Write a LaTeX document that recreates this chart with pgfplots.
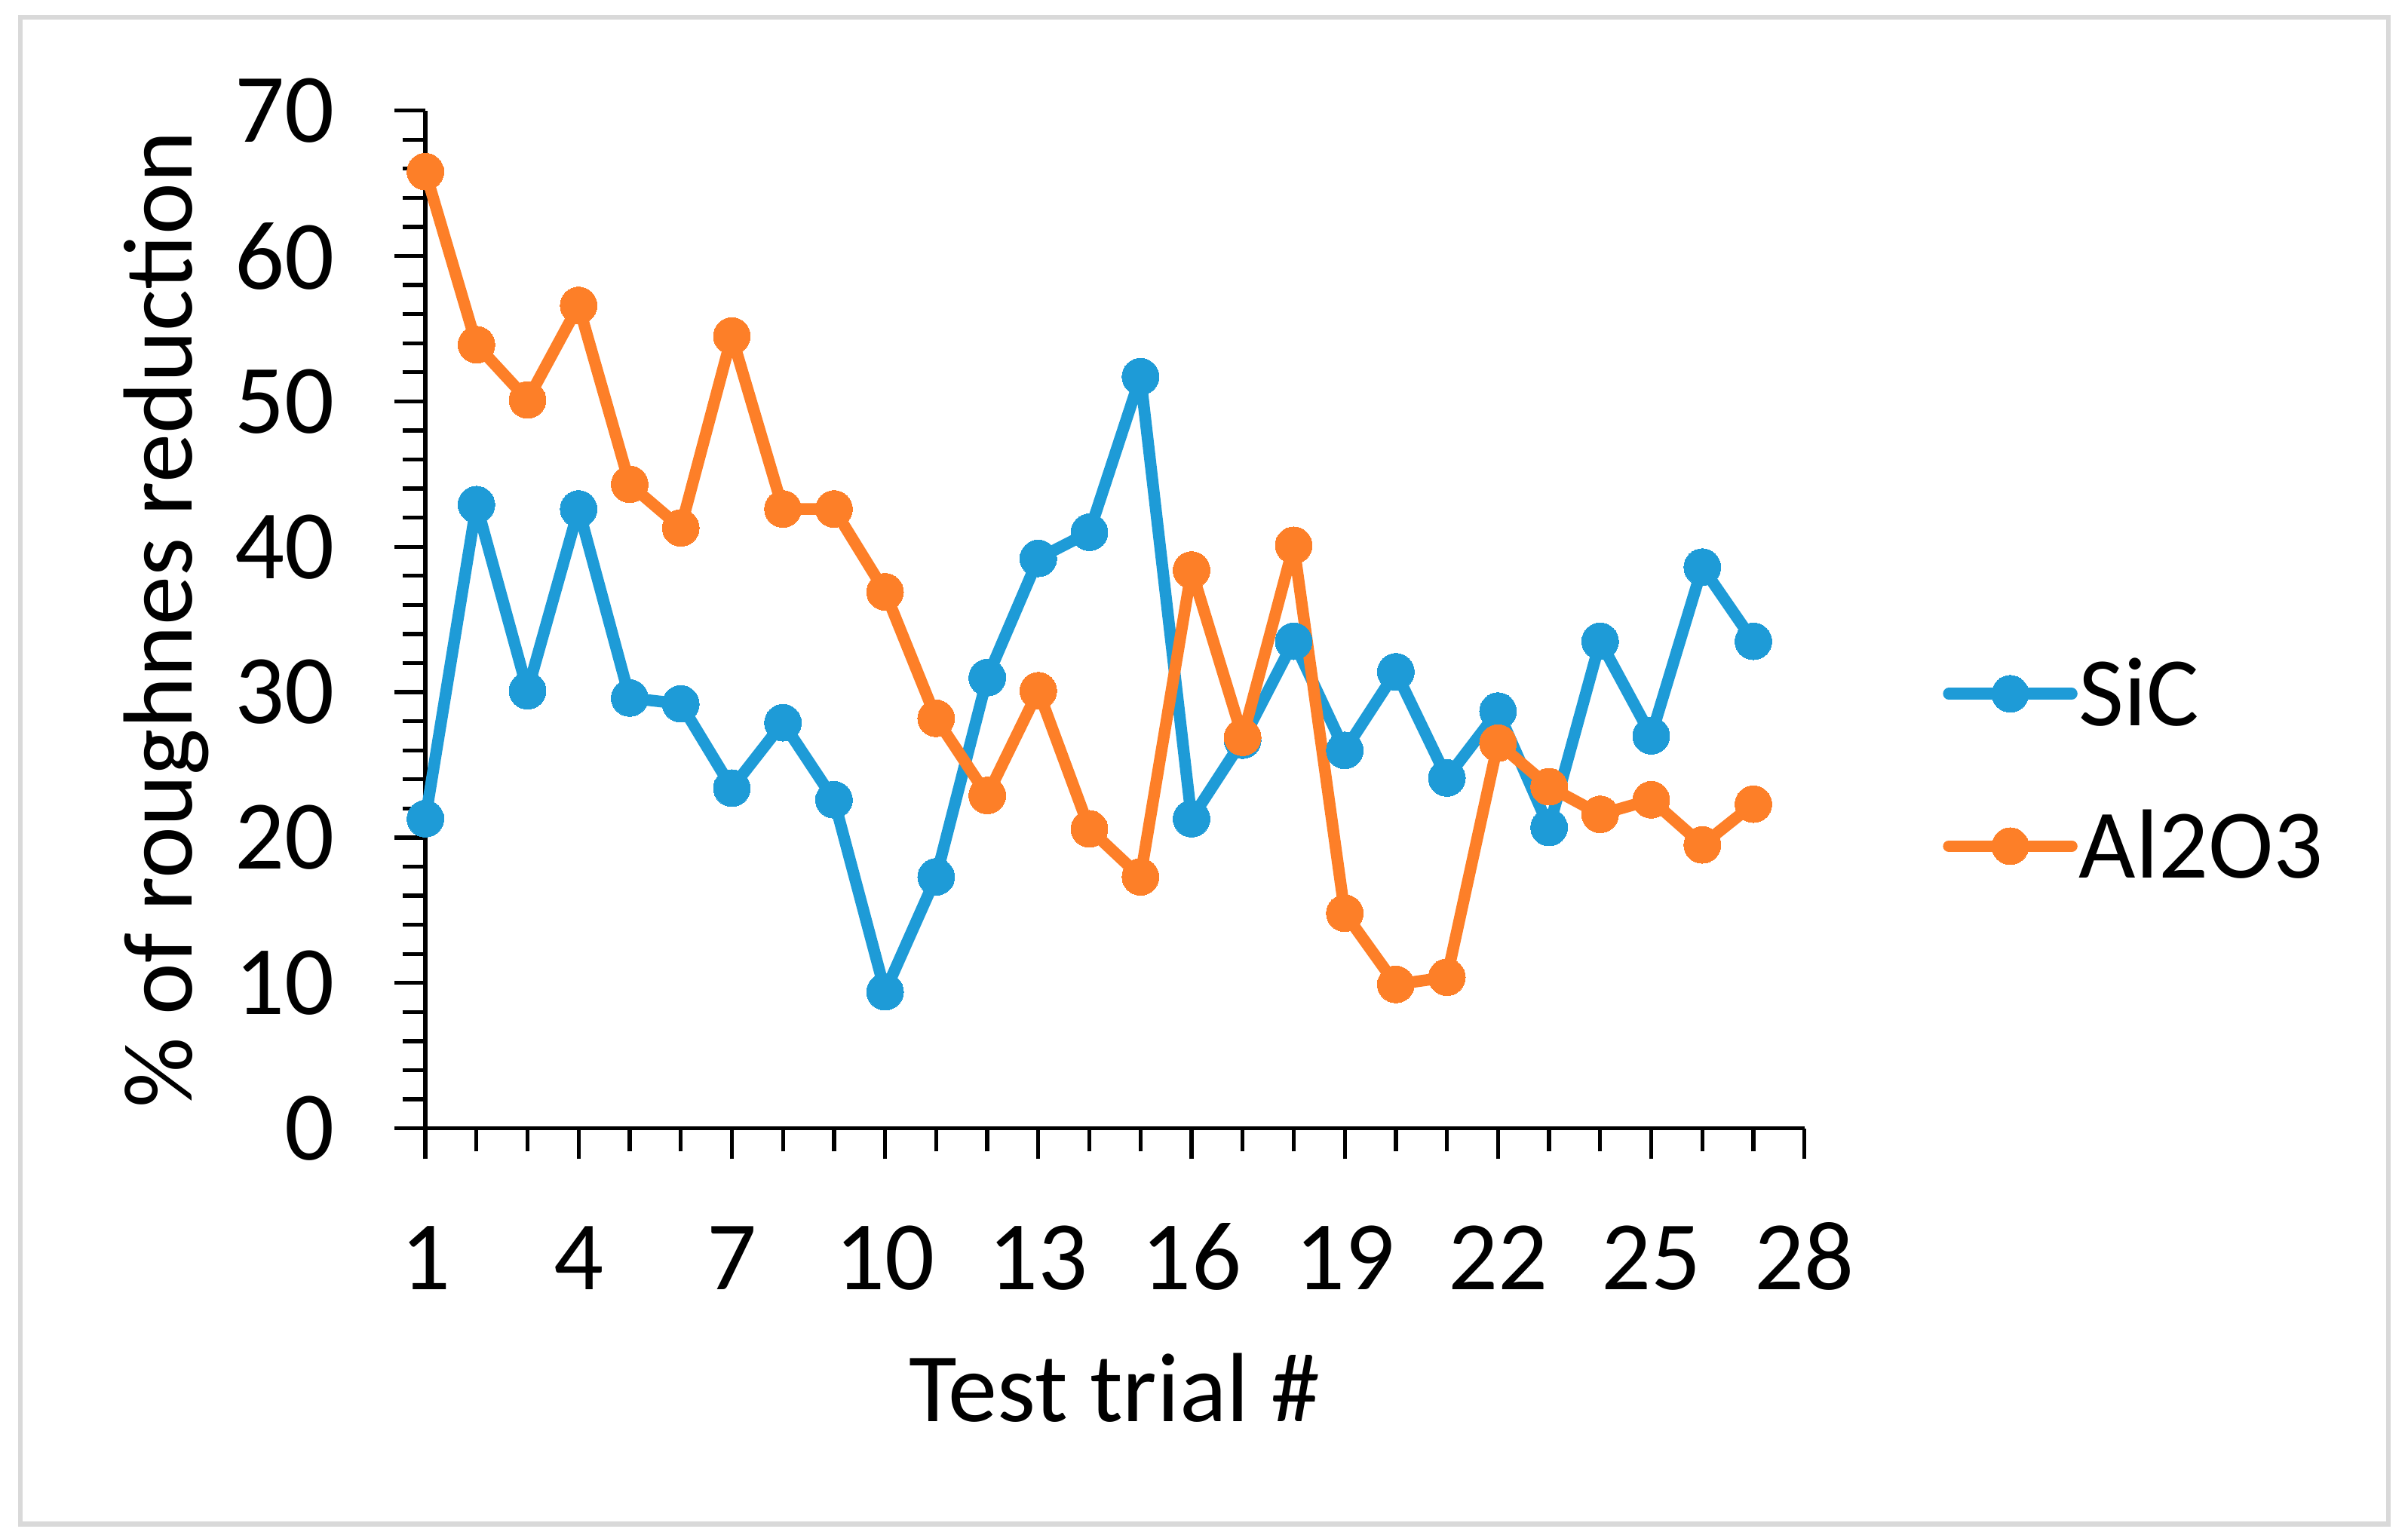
\documentclass[border=0pt]{standalone}
\usepackage{pgfplots}
\pgfplotsset{compat=1.18}
\usepackage{fontspec}
\setmainfont{Carlito}
\definecolor{sicblue}{RGB}{30,155,215}
\definecolor{alorange}{RGB}{253,127,40}
\definecolor{framegray}{RGB}{217,217,217}
\begin{document}
\begin{tikzpicture}
\useasboundingbox (0,0) rectangle (784pt,500.65pt);
\draw[line width=1.5pt, framegray] (6.6pt,495pt) rectangle (777.6pt,4.3pt);
\begin{axis}[
  at={(138.5pt,133.15pt)}, anchor=south west,
  scale only axis, width=449pt, height=331.5pt,
  xmin=1, xmax=28, ymin=0, ymax=70,
  axis lines=left,
  axis line style={-, line width=1.3pt, black},
  xtick={1,4,...,28}, minor xtick={1,...,28},
  ytick={0,10,...,70}, minor ytick={0,2,...,70},
  tick align=outside,
  major tick length=10pt, minor tick length=7.5pt,
  every tick/.style={black, line width=1.3pt},
  every minor tick/.style={black, line width=1.3pt},
  tick label style={font=\fontsize{32}{38}\selectfont},
  /pgf/number format/assume math mode=true,
  xticklabel style={anchor=base, yshift=-42.5pt},
  yticklabel style={anchor=east, xshift=-16pt},
  xlabel={Test trial \#},
  ylabel={\% of roughnes reduction},
  label style={font=\fontsize{32}{38}\selectfont},
  xlabel style={at={(axis description cs:0.5,-0.288)}, anchor=base},
  ylabel style={at={(axis description cs:-0.188,0.5)}, anchor=center},
  legend style={at={(axis description cs:1.100,0.352)}, anchor=west, draw=none, fill=none,
    font=\fontsize{32}{38}\selectfont, inner sep=0pt, row sep=25pt,
    nodes={inner sep=0.5pt}},
  legend cell align=left,
  legend image code/.code={\draw[mark repeat=2,mark phase=2,#1] plot coordinates {(0pt,0pt) (20pt,0pt) (40pt,0pt)};},
  every axis plot/.append style={line width=3.8pt, line cap=round, line join=round, mark=*, mark size=6pt, mark options={solid}},
  clip=false,
]
\addplot[color=sicblue, mark options={fill=sicblue, draw=sicblue, line width=0pt}] coordinates {
(1,21.3) (2,42.9) (3,30.1) (4,42.6) (5,29.6) (6,29.2) (7,23.4) (8,27.9) (9,22.6) (10,9.4)
(11,17.3) (12,31.0) (13,39.2) (14,41.0) (15,51.7) (16,21.3) (17,26.7) (18,33.5) (19,26.0)
(20,31.4) (21,24.1) (22,28.7) (23,20.7) (24,33.5) (25,27.0) (26,38.6) (27,33.5)
};
\addlegendentry{SiC}
\addplot[color=alorange, mark options={fill=alorange, draw=alorange, line width=0pt}] coordinates {
(1,65.8) (2,53.9) (3,50.1) (4,56.6) (5,44.3) (6,41.3) (7,54.5) (8,42.6) (9,42.6) (10,36.9)
(11,28.2) (12,22.9) (13,30.1) (14,20.6) (15,17.3) (16,38.4) (17,26.9) (18,40.1) (19,14.8)
(20,9.9) (21,10.4) (22,26.5) (23,23.5) (24,21.6) (25,22.6) (26,19.5) (27,22.3)
};
\addlegendentry{Al2O3}
\end{axis}
\end{tikzpicture}
\end{document}
